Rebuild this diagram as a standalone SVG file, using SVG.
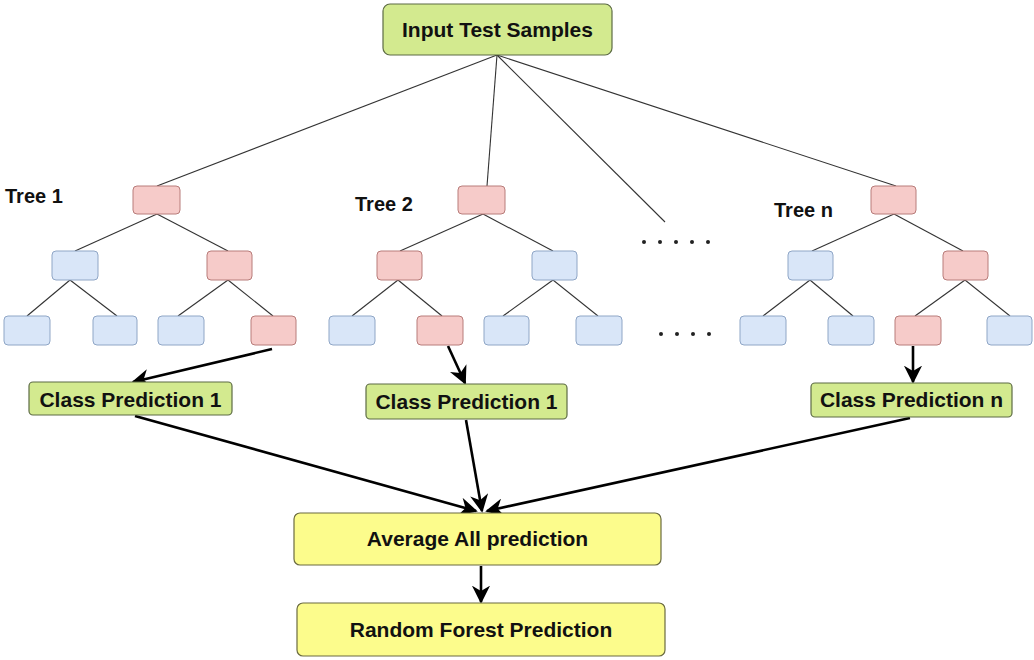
<svg xmlns="http://www.w3.org/2000/svg" width="1034" height="660" viewBox="0 0 1034 660">
  <style>
    .green { fill: #d3ea8f; stroke: #5d6b45; stroke-width: 1.2; }
    .yellow { fill: #fcfc8c; stroke: #6b6b40; stroke-width: 1.2; }
    .red { fill: #f6cbc9; stroke: #b87c7a; stroke-width: 1; }
    .blue { fill: #d9e6f8; stroke: #8fa6c6; stroke-width: 1; }
    .lbl { font-family: "Liberation Sans", Arial, sans-serif; font-weight: bold; font-size: 21px; fill: #111; text-anchor: middle; }
    .tree { font-family: "Liberation Sans", Arial, sans-serif; font-weight: bold; font-size: 20px; fill: #111; }
    .thin { stroke: #333; stroke-width: 1.1; fill: none; }
    .thick { stroke: #000; stroke-width: 2.6; fill: none; marker-end: url(#arrow); }
    .dot { fill: #222; }
  </style>
  <defs>
    <marker id="arrow" viewBox="0 0 10 10" refX="9" refY="5" markerWidth="7" markerHeight="7" orient="auto" markerUnits="strokeWidth">
      <path d="M0,0 L10,5 L0,10 L3,5 z" fill="#000"/>
    </marker>
  </defs>
  <rect width="1034" height="660" fill="#fff"/>

  <!-- thin tree edges -->
  <g id="connectors">
    <g class="thin">
      <!-- root to each tree -->
      <line x1="497" y1="55" x2="157" y2="186"/>
      <line x1="497" y1="55" x2="487" y2="186"/>
      <line x1="497" y1="55" x2="665" y2="222"/>
      <line x1="497" y1="55" x2="896" y2="186"/>
      <!-- tree 1 -->
      <line x1="157" y1="214" x2="75" y2="251"/>
      <line x1="157" y1="214" x2="228" y2="251"/>
      <line x1="70" y1="280" x2="27" y2="316"/>
      <line x1="70" y1="280" x2="117" y2="316"/>
      <line x1="228" y1="280" x2="178" y2="316"/>
      <line x1="228" y1="280" x2="273" y2="316"/>
      <!-- tree 2 -->
      <line x1="483" y1="214" x2="400" y2="251"/>
      <line x1="483" y1="214" x2="553" y2="251"/>
      <line x1="398" y1="280" x2="352" y2="316"/>
      <line x1="398" y1="280" x2="442" y2="316"/>
      <line x1="553" y1="280" x2="503" y2="316"/>
      <line x1="553" y1="280" x2="598" y2="316"/>
      <!-- tree n -->
      <line x1="894" y1="214" x2="812" y2="251"/>
      <line x1="894" y1="214" x2="963" y2="251"/>
      <line x1="810" y1="280" x2="763" y2="316"/>
      <line x1="810" y1="280" x2="853" y2="316"/>
      <line x1="965" y1="280" x2="915" y2="316"/>
      <line x1="965" y1="280" x2="1010" y2="316"/>
    </g>
    <!-- prediction arrows -->
    <line class="thick" x1="272" y1="349" x2="133" y2="382"/>
    <line class="thick" x1="448" y1="346" x2="465" y2="383"/>
    <line class="thick" x1="913" y1="346" x2="913" y2="382"/>
    <line class="thick" x1="135" y1="416" x2="476" y2="511"/>
    <line class="thick" x1="466" y1="420" x2="482" y2="511"/>
    <line class="thick" x1="910" y1="418" x2="487" y2="511"/>
    <line class="thick" x1="481" y1="566" x2="481" y2="602"/>
  </g>

  <g id="input">
    <rect class="green" x="383" y="4" width="229" height="51" rx="7"/>
    <text class="lbl" x="497.5" y="37">Input Test Samples</text>
  </g>

  <!-- tree 1 -->
  <g id="tree1">
    <text class="tree" x="5" y="203">Tree 1</text>
    <rect class="red" x="133" y="186" width="47" height="28" rx="4"/>
    <rect class="blue" x="52" y="251" width="46" height="29" rx="4"/>
    <rect class="red" x="207" y="251" width="45" height="29" rx="4"/>
    <rect class="blue" x="4" y="316" width="46" height="29" rx="4"/>
    <rect class="blue" x="93" y="316" width="44" height="29" rx="4"/>
    <rect class="blue" x="158" y="316" width="46" height="29" rx="4"/>
    <rect class="red" x="251" y="316" width="45" height="29" rx="4"/>
  </g>

  <!-- tree 2 -->
  <g id="tree2">
    <text class="tree" x="355" y="211">Tree 2</text>
    <rect class="red" x="458" y="186" width="47" height="28" rx="4"/>
    <rect class="red" x="377" y="251" width="45" height="29" rx="4"/>
    <rect class="blue" x="532" y="251" width="45" height="29" rx="4"/>
    <rect class="blue" x="329" y="316" width="46" height="29" rx="4"/>
    <rect class="red" x="417" y="316" width="46" height="29" rx="4"/>
    <rect class="blue" x="484" y="316" width="45" height="29" rx="4"/>
    <rect class="blue" x="576" y="316" width="46" height="29" rx="4"/>
  </g>

  <!-- ellipsis between trees -->
  <g id="dots">
    <circle class="dot" cx="644" cy="242" r="2"/>
    <circle class="dot" cx="660" cy="242" r="2"/>
    <circle class="dot" cx="676" cy="242" r="2"/>
    <circle class="dot" cx="692" cy="242" r="2"/>
    <circle class="dot" cx="708" cy="242" r="2"/>
    <circle class="dot" cx="661" cy="334" r="2"/>
    <circle class="dot" cx="677" cy="334" r="2"/>
    <circle class="dot" cx="693" cy="334" r="2"/>
    <circle class="dot" cx="709" cy="334" r="2"/>
  </g>

  <!-- tree n -->
  <g id="treen">
    <text class="tree" x="774" y="217">Tree n</text>
    <rect class="red" x="871" y="186" width="45" height="28" rx="4"/>
    <rect class="blue" x="788" y="251" width="45" height="29" rx="4"/>
    <rect class="red" x="943" y="251" width="45" height="29" rx="4"/>
    <rect class="blue" x="740" y="316" width="46" height="29" rx="4"/>
    <rect class="blue" x="828" y="316" width="46" height="29" rx="4"/>
    <rect class="red" x="895" y="316" width="46" height="29" rx="4"/>
    <rect class="blue" x="987" y="316" width="45" height="29" rx="4"/>
  </g>

  <g id="pred1">
    <rect class="green" x="29" y="382" width="203" height="33" rx="4"/>
    <text class="lbl" x="130.5" y="407">Class Prediction 1</text>
  </g>
  <g id="pred2">
    <rect class="green" x="366" y="384" width="201" height="35" rx="4"/>
    <text class="lbl" x="466.5" y="408.5">Class Prediction 1</text>
  </g>
  <g id="predn">
    <rect class="green" x="811" y="383" width="201" height="34" rx="4"/>
    <text class="lbl" x="911.5" y="407">Class Prediction n</text>
  </g>

  <g id="average">
    <rect class="yellow" x="294" y="513" width="367" height="52" rx="6"/>
    <text class="lbl" x="477.5" y="546">Average All prediction</text>
  </g>
  <g id="forest">
    <rect class="yellow" x="297" y="603" width="368" height="53" rx="6"/>
    <text class="lbl" x="481" y="637">Random Forest Prediction</text>
  </g>
</svg>
